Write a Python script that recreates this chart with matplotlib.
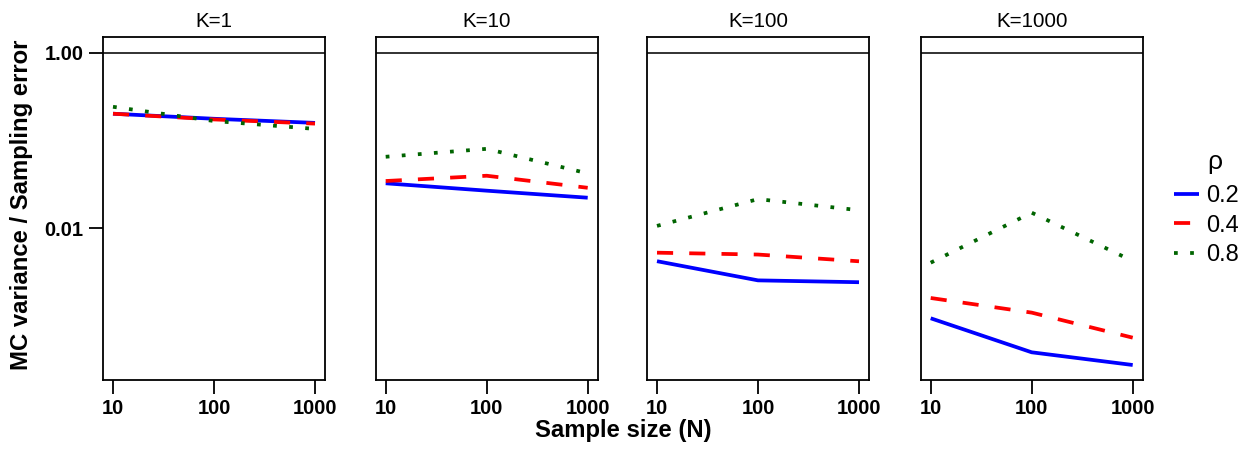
import numpy as np
import matplotlib.pyplot as plt

plt.rcParams['font.family'] = ['Liberation Sans', 'DejaVu Sans']

# sample sizes and number of replicates per panel
sample_sizes = [10, 100, 1000]
k_values = [1, 10, 100, 1000]
rho_labels = ['0.2', '0.4', '0.8']

# MC variance / sampling error, one list per K, per rho
rho02 = [
    [0.201, 0.176, 0.158],
    [0.0324, 0.0267, 0.0222],
    [0.0042, 0.00254, 0.00242],
    [0.00094, 0.000385, 0.000276],
]
rho04 = [
    [0.201, 0.173, 0.155],
    [0.0344, 0.0395, 0.0288],
    [0.00525, 0.0050, 0.00419],
    [0.0016, 0.00109, 0.000565],
]
rho08 = [
    [0.241, 0.166, 0.135],
    [0.065, 0.080, 0.042],
    [0.0106, 0.0214, 0.0160],
    [0.00404, 0.0150, 0.00422],
]

W, H = 1247, 450
fig = plt.figure(figsize=(W / 100, H / 100), dpi=100)

lefts = [103, 375.7, 647, 920.7]
pw = 222
top, bottom = 37, 380

lw = 2.7
styles = [
    dict(color='#0000ff', lw=lw, ls='-'),
    dict(color='#ff0000', lw=lw, ls=(0, (4.3, 4.3))),
    dict(color='#006400', lw=lw, ls=(0, (1.0, 3.3))),
]

handles = []
for i, k in enumerate(k_values):
    ax = fig.add_axes([lefts[i] / W, 1 - bottom / H, pw / W, (bottom - top) / H])
    ax.set_xscale('log')
    ax.set_yscale('log')
    ax.set_xlim(10 ** 0.901, 10 ** 3.099)
    ax.set_ylim(10 ** -3.73, 10 ** 0.177)
    ax.axhline(1.0, color='#222222', lw=1.3)
    hs = []
    for data, st in zip([rho02, rho04, rho08], styles):
        h, = ax.plot(sample_sizes, data[i], solid_capstyle='butt',
                     dash_capstyle='butt', **st)
        hs.append(h)
    handles = hs
    ax.set_title('K=%d' % k, fontsize=14.8, pad=7)
    ax.set_xticks(sample_sizes)
    ax.set_xticklabels(['10', '100', '1000'], fontweight='bold', fontsize=14.5)
    ax.xaxis.set_minor_locator(plt.NullLocator())
    ax.yaxis.set_minor_locator(plt.NullLocator())
    if i == 0:
        ax.set_yticks([1.0, 0.01])
        ax.set_yticklabels(['1.00', '0.01'], fontweight='bold', fontsize=14.5)
    else:
        ax.set_yticks([])
    ax.tick_params(length=10, width=1.3, pad=4, color='black')
    for s in ax.spines.values():
        s.set_linewidth(1.3)

fig.text(22 / W, 1 - 205 / H, 'MC variance / Sampling error', rotation=90,
         ha='center', va='center', fontsize=17.2, fontweight='bold')
fig.text(623 / W, 1 - 430 / H, 'Sample size (N)', ha='center', va='center',
         fontsize=17.2, fontweight='bold')

# legend title drawn on its own so it sits where the reference has it
fig.text(1215 / W, 1 - 162 / H, 'ρ', ha='center', va='center', fontsize=19)
leg = fig.legend(handles, rho_labels, loc='upper left',
                 bbox_to_anchor=(1174 / W, 1 - 185 / H), frameon=False,
                 fontsize=17, handlelength=1.05, handletextpad=0.3,
                 labelspacing=0.32, borderpad=0, borderaxespad=0)

fig.savefig('out.png', dpi=100)
